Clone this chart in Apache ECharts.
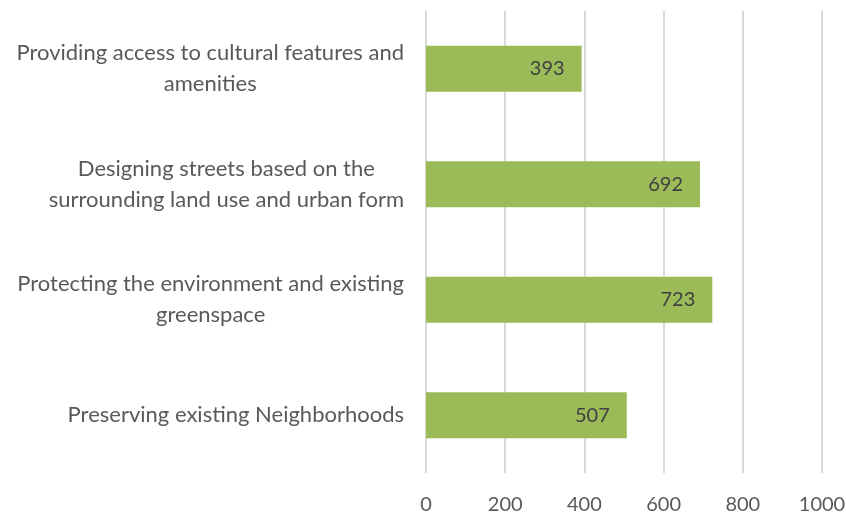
<!DOCTYPE html>
<html>
<head>
<meta charset="utf-8">
<script src="https://cdn.jsdelivr.net/npm/echarts@6/dist/echarts.min.js"></script>
<style>html,body{margin:0;padding:0;background:#fff}#c{width:846px;height:518px}</style>
</head>
<body>
<div id="c"></div>
<script>
const categories = [
  "Providing access to cultural features and\namenities",
  "Designing streets based on the\nsurrounding land use and urban form",
  "Protecting the environment and existing\ngreenspace",
  "Preserving existing Neighborhoods"
];
const values = [393, 692, 723, 507];
const xTicks = [0, 200, 400, 600, 800, 1000];

const FONT = 'Lato';
const rich = {};
categories.forEach((c, i) => {
  rich['r' + i] = { align: 'center', fontFamily: FONT, fontSize: 22, color: '#595959', lineHeight: 31 };
});

const chart = echarts.init(document.getElementById('c'));
chart.setOption({
  animation: false,
  grid: { left: 426, right: 24, top: 11, bottom: 45, outerBoundsMode: 'none', containLabel: false },
  xAxis: {
    type: 'value', min: xTicks[0], max: xTicks[xTicks.length - 1], interval: xTicks[1] - xTicks[0],
    axisLine: { show: false }, axisTick: { show: false },
    splitLine: { show: true, lineStyle: { color: '#d9d9d9', width: 2 } },
    axisLabel: { margin: 22, fontFamily: FONT, fontSize: 20, color: '#595959', formatter: v => String(v) }
  },
  yAxis: {
    type: 'category', data: categories, inverse: true,
    axisLine: { show: false }, axisTick: { show: false },
    axisLabel: {
      margin: 22,
      formatter: (v, i) => v.split('\n').map(l => '{r' + i + '|' + l + '}').join('\n'),
      rich: rich
    }
  },
  series: [{
    type: 'bar', data: values, barCategoryGap: '60%',
    itemStyle: { color: '#9bbb59' },
    label: { show: true, position: 'insideRight', distance: 17, fontFamily: FONT, fontSize: 20, color: '#404040' }
  }]
});
</script>
</body>
</html>
